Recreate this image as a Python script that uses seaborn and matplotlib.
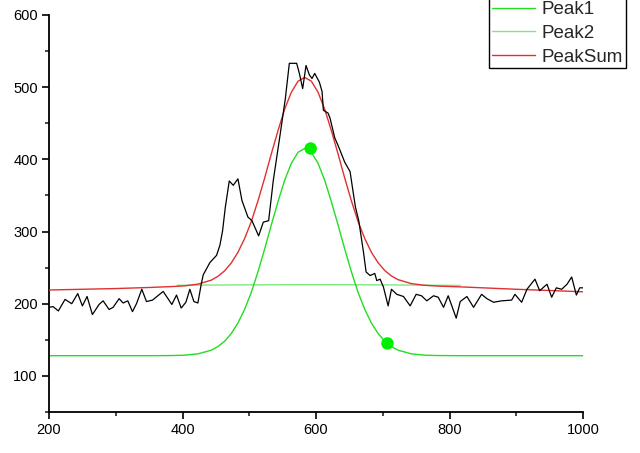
import matplotlib
matplotlib.use('Agg')
import matplotlib.pyplot as plt
import seaborn as sns
from matplotlib.ticker import MultipleLocator

# Measured spectrum (black)
data_x = [200, 206, 214, 224, 234, 243, 250, 257, 265, 275, 281, 290, 296, 305, 311,
          318, 325, 331, 339, 346, 355, 371, 384, 391, 398, 405, 411, 417, 423, 428,
          431, 441, 451, 456, 460, 464, 470, 476, 483, 489, 498, 504, 514, 521, 529,
          536, 546, 554, 560, 571, 575, 580, 585, 590, 594, 598, 605, 609, 611, 618,
          621, 628, 634, 643, 651, 656, 659, 664, 671, 675, 681, 688, 691, 696, 701,
          708, 713, 721, 731, 741, 750, 758, 766, 776, 783, 791, 798, 810, 816, 826,
          836, 848, 856, 866, 878, 893, 898, 908, 916, 928, 935, 946, 953, 960, 968,
          976, 983, 990, 995, 1000]
data_y = [195, 196, 190, 206, 200, 214, 197, 210, 185, 199, 204, 192, 195, 207, 201,
          204, 189, 200, 220, 203, 205, 217, 199, 212, 194, 202, 220, 203, 201, 227,
          240, 257, 267, 281, 301, 333, 370, 364, 373, 343, 320, 315, 294, 313, 315,
          371, 433, 484, 533, 533, 519, 498, 530, 517, 512, 519, 507, 494, 468, 464,
          457, 430, 417, 396, 383, 352, 334, 315, 272, 244, 239, 242, 232, 234, 223,
          197, 220, 213, 210, 197, 213, 211, 204, 211, 209, 195, 211, 180, 203, 210,
          195, 213, 207, 202, 204, 205, 213, 202, 220, 234, 218, 227, 209, 222, 220,
          227, 237, 212, 222, 222]

# Fitted curves
fit_x = [200, 250, 300, 350, 383, 403, 423, 443, 453, 463, 473, 483, 493, 503, 513,
         523, 533, 543, 553, 563, 573, 583, 593, 603, 613, 623, 633, 643, 653, 663,
         673, 683, 693, 703, 713, 723, 743, 763, 783, 820, 850, 900, 950, 1000]
peak1_y = [128, 128, 128, 128, 128.2, 128.7, 130.5, 135.6, 140.6, 148.0, 158.7, 173.2,
           192.2, 215.6, 244.2, 275.7, 309.1, 341.3, 371.0, 394.5, 409.7, 415.0, 409.7,
           394.5, 371.0, 341.3, 309.1, 275.7, 244.2, 215.6, 192.2, 173.2, 158.7, 148.0,
           140.6, 135.6, 130.5, 128.7, 128.2, 128, 128, 128, 128, 128]
peaksum_y = [219, 220, 221, 222.5, 223.7, 224.7, 227.1, 232.6, 237.9, 245.5, 256.4, 271.2,
             290.2, 313.7, 342.4, 374.0, 407.5, 439.7, 469.5, 492.9, 508.2, 513.5, 508.2,
             493.0, 469.4, 439.7, 407.4, 374.0, 342.4, 313.7, 290.3, 271.2, 256.7, 245.9,
             238.4, 233.3, 227.8, 225.5, 224.4, 223.2, 222, 220, 218.3, 216.5]
peak2_x = [392, 450, 500, 550, 600, 650, 700, 750, 816]
peak2_y = [225.6, 225.9, 226.1, 226.3, 226.4, 226.3, 226.1, 225.8, 225.3]

marker_x = [592, 707]
marker_y = [415, 145]

c_peak1 = '#22dd22'
c_peak2 = '#7fe87f'
c_sum = '#e03030'

sns.set_style('ticks')
plt.rcParams['font.family'] = ['Liberation Sans', 'DejaVu Sans']

fig = plt.figure(figsize=(6.4, 4.53), dpi=100)
ax = fig.add_axes([0.0766, 0.0905, 0.8344, 0.8765])

sns.lineplot(x=peak2_x, y=peak2_y, color=c_peak2, lw=1.0, label='Peak2',
             estimator=None, sort=False, ax=ax, zorder=2)
sns.lineplot(x=fit_x, y=peak1_y, color=c_peak1, lw=1.0, label='Peak1',
             estimator=None, sort=False, ax=ax, zorder=2)
sns.lineplot(x=fit_x, y=peaksum_y, color=c_sum, lw=1.0, label='PeakSum',
             estimator=None, sort=False, ax=ax, zorder=3)
sns.lineplot(x=data_x, y=data_y, color='black', lw=0.9,
             estimator=None, sort=False, ax=ax, zorder=4)
sns.scatterplot(x=marker_x, y=marker_y, color='#00ee00', s=80, edgecolor='none',
                ax=ax, zorder=5)

ax.set_xlim(200, 1000)
ax.set_ylim(50, 600)
ax.xaxis.set_major_locator(MultipleLocator(200))
ax.xaxis.set_minor_locator(MultipleLocator(100))
ax.yaxis.set_major_locator(MultipleLocator(100))
ax.yaxis.set_minor_locator(MultipleLocator(50))
for s in ['top', 'right']:
    ax.spines[s].set_visible(False)
for s in ['left', 'bottom']:
    ax.spines[s].set_linewidth(1.3)
    ax.spines[s].set_color('black')
ax.tick_params(which='major', direction='out', length=5, width=1.2, labelsize=10.5,
               colors='black', pad=3)
ax.tick_params(which='minor', direction='out', length=3, width=1.2)
for lab in ax.get_xticklabels() + ax.get_yticklabels():
    lab.set_fontfamily(['Liberation Sans', 'DejaVu Sans'])
ax.set_xlabel('')
ax.set_ylabel('')

handles, labels = ax.get_legend_handles_labels()
order = ['Peak1', 'Peak2', 'PeakSum']
hmap = dict(zip(labels, handles))
ax.get_legend().remove()
leg = fig.legend([hmap[k] for k in order], order, loc='upper right',
                 bbox_to_anchor=(0.978, 1.004), frameon=True, fancybox=False,
                 edgecolor='black', framealpha=1, handlelength=2.3,
                 prop={'family': ['Liberation Sans', 'DejaVu Sans'], 'size': 13.5},
                 handletextpad=0.37, labelspacing=0.35, borderpad=0.15,
                 borderaxespad=0)
leg.get_frame().set_linewidth(1.0)

fig.savefig('out.png', dpi=100)
